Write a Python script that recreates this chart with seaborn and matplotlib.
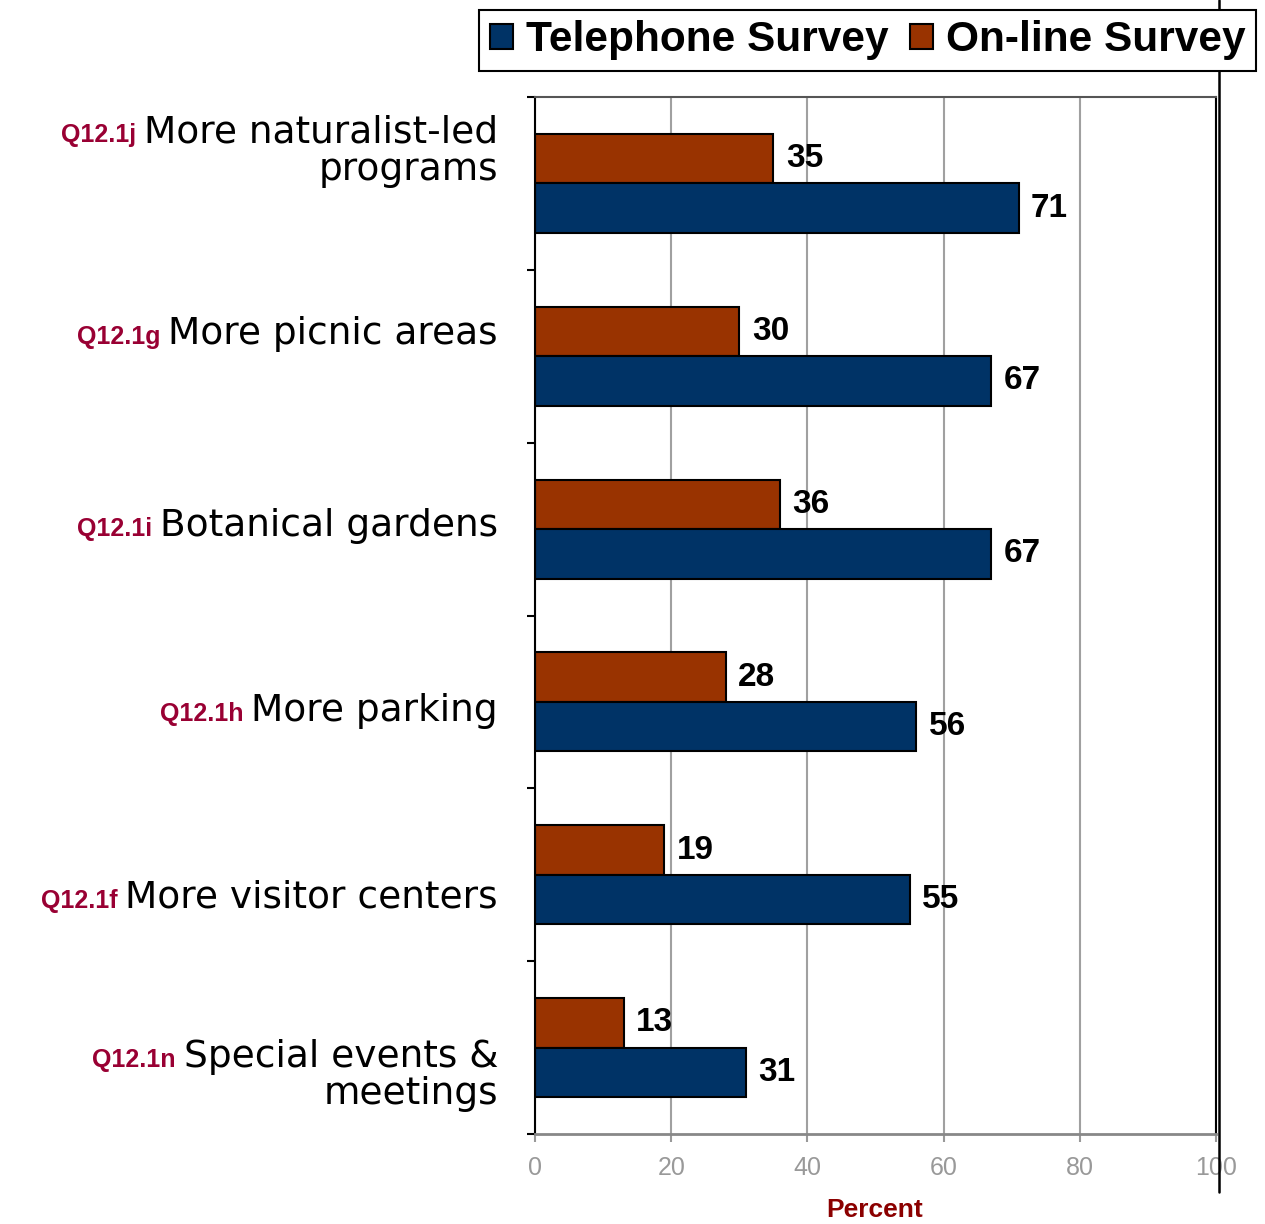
import numpy as np
import pandas as pd
import seaborn as sns
import matplotlib
matplotlib.use('Agg')
from matplotlib import pyplot as plt
from matplotlib.patches import Patch
from matplotlib.lines import Line2D

## chart values
items = ['More naturalist-led\nprograms', 'More picnic areas', 'Botanical gardens',
         'More parking', 'More visitor centers', 'Special events &\nmeetings']
codes = ['Q12.1j', 'Q12.1g', 'Q12.1i', 'Q12.1h', 'Q12.1f', 'Q12.1n']
telephone = [71, 67, 67, 56, 55, 31]
online = [35, 30, 36, 28, 19, 13]
x_ticks = [0, 20, 40, 60, 80, 100]

df = pd.DataFrame({
    'item': items * 2,
    'value': online + telephone,
    'survey': ['On-line Survey'] * len(items) + ['Telephone Survey'] * len(items),
})

sns.set_style('white')
plt.rcParams['font.family'] = ['Liberation Sans', 'DejaVu Sans']
plt.rcParams['text.color'] = 'black'

navy = '#003366'
rust = '#993300'
crimson = '#990033'

fig = plt.figure(figsize=(12.65, 12.24), dpi=100)
ax = fig.add_axes([535/1265, 1 - 1134/1224, (1216 - 535)/1265, (1134 - 97)/1224])

sns.barplot(data=df, x='value', y='item', hue='survey',
            hue_order=['On-line Survey', 'Telephone Survey'],
            palette={'On-line Survey': rust, 'Telephone Survey': navy},
            order=items, width=0.572, saturation=1, edgecolor='black', linewidth=1.5,
            legend=False, ax=ax)

for cont in ax.containers:
    ax.bar_label(cont, fmt='%g', padding=9, fontsize=24, fontweight='bold', color='black')

ax.set_xlim(0, 100)
ax.set_ylim(len(items) - 0.5, -0.5)
ax.set_xticks(x_ticks)
ax.set_xticklabels([str(t) for t in x_ticks], color='#999999', fontsize=18)
ax.set_yticks(np.arange(len(items) + 1) - 0.5)
ax.set_yticklabels([])
ax.set_xlabel('')
ax.set_ylabel('')
ax.tick_params(axis='y', left=True, length=6, width=1.5, color='black', direction='out')
ax.tick_params(axis='x', bottom=True, length=6, width=1.5, color='#999999', pad=10)
ax.xaxis.grid(True, color='#a0a0a0', linewidth=1.5)
ax.set_axisbelow(True)

ax.spines['left'].set_color('black')
ax.spines['left'].set_linewidth(1.5)
ax.spines['bottom'].set_color('#888888')
ax.spines['bottom'].set_linewidth(2)
ax.spines['top'].set_color('#555555')
ax.spines['top'].set_linewidth(1.5)
ax.spines['right'].set_color('black')
ax.spines['right'].set_linewidth(1.5)

## category labels: wide black text, crimson code in front of first line
first_off = [-41, -12, 7, 19, 33, 19]     # baseline offset from band centre, px downward
second_off = [-3, None, None, None, None, 56]
for i, (code, txt) in enumerate(zip(codes, items)):
    lines = txt.split('\n')
    t1 = ax.annotate(lines[0], xy=(0, i), xycoords=ax.get_yaxis_transform(),
                     xytext=(-37, -first_off[i]), textcoords='offset pixels',
                     ha='right', va='baseline', fontsize=27, family='DejaVu Sans',
                     color='black', annotation_clip=False)
    if len(lines) > 1:
        ax.annotate(lines[1], xy=(0, i), xycoords=ax.get_yaxis_transform(),
                    xytext=(-37, -second_off[i]), textcoords='offset pixels',
                    ha='right', va='baseline', fontsize=27, family='DejaVu Sans',
                    color='black', annotation_clip=False)
    ax.annotate(code, xy=(0, i), xycoords=(t1, 'data'),
                xytext=(-8, -first_off[i]), textcoords='offset pixels',
                ha='right', va='baseline', fontsize=18, fontweight='bold',
                color=crimson, annotation_clip=False)

fig.text(875/1265, 1 - 1222/1224, 'Percent', ha='center', va='bottom',
         fontsize=19, fontweight='bold', color='#8b0000')

handles = [Patch(facecolor=navy, edgecolor='black', linewidth=1.5),
           Patch(facecolor=rust, edgecolor='black', linewidth=1.5)]
leg = fig.legend(handles, ['Telephone Survey', 'On-line Survey'], ncol=2,
                 loc='center', bbox_to_anchor=(867.5/1265, 1 - 40.5/1224),
                 prop={'size': 30.5, 'weight': 'bold'}, frameon=True, fancybox=False,
                 framealpha=1, edgecolor='black', handlelength=0.55, handleheight=0.55,
                 handletextpad=0.3, columnspacing=0.5, borderpad=0.25,
                 borderaxespad=0)
leg.get_frame().set_linewidth(1.5)
for t in leg.get_texts():
    t.set_color('black')

## long vertical rule at the right edge of the slide
fig.add_artist(Line2D([1219/1265, 1219/1265], [1 - 1192/1224, 1], color='black', linewidth=1.8))

plt.savefig('out.png', dpi=100)
